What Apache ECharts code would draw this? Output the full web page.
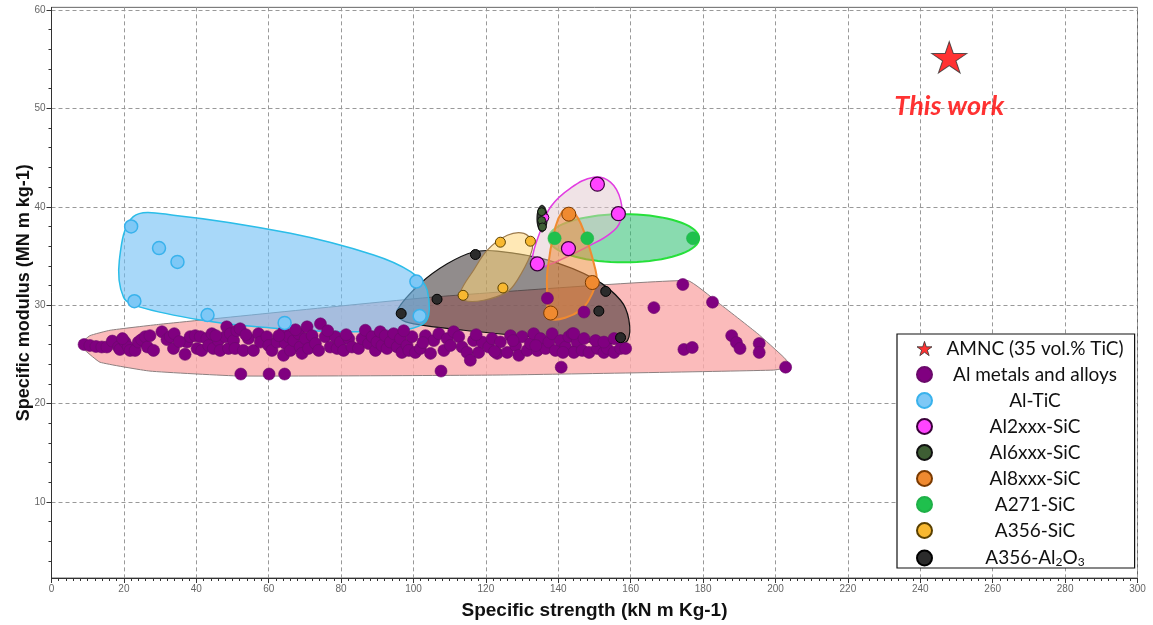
<!DOCTYPE html>
<html>
<head>
<meta charset="utf-8">
<script src="https://cdn.jsdelivr.net/npm/echarts@6/dist/echarts.min.js"></script>
<style>
  html, body { margin: 0; padding: 0; background: #fff; }
  #chart { width: 1153px; height: 625px; }
</style>
</head>
<body>
<div id="chart"></div>
<script>
// ---- data: [specific strength (kN m kg-1), specific modulus (MN m kg-1)] ----
const amncPoints = [[248, 55.2]];

const alloyPoints = [
  [9.0,26.0],[10.6,25.9],[12.3,25.8],[13.9,25.75],[15.3,25.75],[16.8,26.35],[18.5,25.75],[18.9,25.5],
  [20.3,26.25],[21.2,25.75],[21.7,25.4],[23.1,25.4],[24.0,26.25],[24.9,26.5],[25.9,26.8],[26.5,25.75],
  [27.2,26.9],[28.2,25.4],[30.5,27.3],[31.9,26.5],[32.8,26.8],[33.9,27.1],[33.7,25.6],[36.9,25.0],
  [37.4,26.25],[38.3,26.8],[39.7,26.9],[40.2,25.6],[41.1,26.8],[41.5,25.4],[42.9,26.6],[43.4,25.9],
  [44.3,27.1],[44.7,25.6],[46.1,26.4],[46.6,25.4],[48.0,26.8],[48.4,27.8],[48.9,25.6],[49.4,27.1],
  [50.3,26.4],[50.7,25.6],[51.2,27.4],[52.3,23.0],[60.1,23.0],[64.4,23.0],
  [52.1,27.6],[53.0,25.4],[54.4,26.6],[55.8,25.4],[57.2,27.1],[57.7,26.25],[59.5,26.8],[60.0,25.9],
  [60.9,25.4],[62.3,26.25],[64.1,27.3],[64.1,24.9],[64.6,26.1],[65.5,26.8],[66.0,25.4],[66.9,26.4],
  [68.3,27.1],[68.7,25.75],[69.2,25.1],[70.1,26.6],[70.6,27.8],[71.0,25.6],[72.0,26.9],[72.9,26.1],
  [73.8,25.4],[74.3,28.1],[75.6,26.8],[77.0,25.75],[78.4,26.8],[78.9,25.6],[79.8,26.25],[80.7,25.4],
  [82.1,26.6],[83.0,25.75],[84.8,25.6],[85.8,26.6],[86.7,27.45],[87.6,26.1],[88.6,26.8],[89.5,25.4],
  [89.9,26.25],[90.8,27.3],[91.3,25.9],[92.2,26.9],[92.7,25.6],[93.6,26.25],[94.5,27.1],[95.5,25.75],
  [96.4,26.6],[96.8,25.2],[98.2,25.9],[98.7,25.4],[99.6,26.8],[100.5,25.2],[101.9,25.6],[103.3,26.9],
  [104.7,25.1],[105.6,26.4],[107.0,27.1],[108.4,25.4],[109.3,26.6],[111.1,27.3],[112.5,26.8],[113.4,25.75],
  [114.8,25.2],[115.7,24.4],[116.6,26.4],[118.0,25.2],[119.0,26.25],[120.8,25.75],[121.7,26.6],[123.1,25.1],
  [124.0,26.25],[125.9,25.2],[126.8,26.9],[128.2,25.9],[129.1,24.9],[130.0,26.8],[131.4,25.4],[132.3,26.1],
  [133.2,27.1],[134.2,25.4],[135.1,26.6],[136.5,25.6],[137.4,26.25],[138.3,27.1],[139.2,25.4],[140.6,26.4],
  [142.0,25.75],[142.9,26.8],[143.9,27.1],[144.8,25.4],[145.2,26.25],[107.6,23.3],[140.8,23.7],
  [144.3,25.2],[146.6,25.4],[148.5,25.2],[150.8,25.6],[152.6,25.2],[153.5,25.6],[155.4,25.2],[157.2,25.6],
  [158.6,25.6],[147.1,29.3],[144.3,27.1],[147.1,26.6],[150.3,26.4],[152.6,26.25],[155.4,26.6],[137.0,30.7],
  [174.4,32.1],[166.4,29.75],[182.6,30.3],[174.7,25.5],[177.0,25.7],[187.9,26.9],[189.2,26.2],[190.2,25.6],
  [195.5,26.1],[195.5,25.2],[202.8,23.7],
  [19.6,26.6],[35.3,26.3],[45.4,26.9],[53.7,27.0],[62.8,26.9],[67.4,27.5],[76.3,27.4],[81.4,27.0],
  [97.3,27.4],[102.6,26.2],[110.2,25.9],[117.3,27.0],[122.4,25.3],[127.5,26.4],[133.8,25.9],[141.3,25.2]
];

const alTicPoints = [[22.0,38.0],[29.7,35.8],[34.8,34.4],[22.9,30.4],[43.1,29.0],[64.4,28.2],[100.8,32.4],[101.7,28.9]];
const al2xxxPoints = [[150.8,42.3],[156.6,39.3],[142.8,35.75],[134.2,34.2]];
const al2xxxSmallPoints = [[136.3,38.9]];
const al6xxxPoints = [[135.4,39.5],[135.4,38.6],[135.6,37.95]];
const al8xxxPoints = [[142.9,39.25],[149.4,32.3],[137.9,29.2]];
const a271Points = [[139.0,36.8],[148.0,36.8],[177.2,36.8]];
const a356SicPoints = [[124.0,36.4],[132.3,36.5],[124.7,31.75],[113.7,31.0]];
const a356AlOPoints = [[117.1,35.15],[106.5,30.6],[96.6,29.15],[153.1,31.4],[151.2,29.4],[157.2,26.7]];

// ---- envelope outlines, in data units ----
const alloyEnvelope = [
  [7.9,26.0],[10.6,26.9],[16.2,27.45],[30.0,28.06],[104.7,30.8],[175.7,32.5],[184.0,30.3],[195.1,27.1],
  [202.3,24.7],[204.2,23.8],[199.5,23.4],[124.0,22.9],[52.1,22.8],[27.2,23.3],[13.4,24.2],[9.3,25.4]
];
const alTicEnvelope = [
  [18.75,34.6],[22.6,39.0],[33.7,39.15],[66.0,37.3],[89.0,35.1],[99.2,33.4],[103.8,31.5],[102.7,28.1],
  [84.4,27.3],[56.7,27.8],[41.1,28.5],[24.5,29.8],[19.9,30.8]
];
const a356AlOEnvelope = [
  [95.5,29.5],[101.9,32.2],[109.3,34.2],[116.6,35.4],[123.1,35.5],[136.9,34.6],[149.8,32.7],[157.2,30.5],
  [159.5,28.5],[159.1,26.4],[155.4,26.1],[132.3,26.8],[113.9,27.45],[100.1,28.1],[96.4,28.6]
];
const a356SicEnvelope = [
  [120.4,35.6],[125.9,37.1],[130.5,37.3],[132.8,36.4],[132.3,35.1],[128.6,32.5],[125.9,31.35],[119.4,30.5],
  [113.9,30.5],[113.0,31.35],[116.6,33.55]
];
const al2xxxEnvelope = [
  [132.8,34.74],[135.1,37.6],[137.9,40.0],[143.4,41.9],[149.8,43.0],[154.4,42.5],[157.2,40.7],[157.2,38.6],
  [154.4,37.3],[148.9,36.1],[140.6,34.6],[136.0,33.9],[133.7,33.7]
];
const al8xxxEnvelope = [
  [142.9,39.83],[146.2,38.3],[150.3,33.55],[150.3,32.0],[146.2,29.5],[137.9,28.6],[137.0,30.8],[137.0,33.55],
  [139.2,37.95],[141.1,39.5]
];
// ellipses: [centre x, centre y, half width, half height]
const a271Ellipse = [158.1, 36.8, 20.8, 2.45];
const al6xxxEllipse = [135.5, 38.8, 1.4, 1.35];

// ---- axis ticks ----
const yTickValues = [10, 20, 30, 40, 50, 60];
const yMinorValues = [4, 6, 8, 12, 14, 16, 18, 22, 24, 26, 28, 32, 34, 36, 38, 42, 44, 46, 48, 52, 54, 56, 58];

const legendNames = ['AMNC (35 vol.% TiC)', 'Al metals and alloys', 'Al-TiC', 'Al2xxx-SiC', 'Al6xxx-SiC',
                     'Al8xxx-SiC', 'A271-SiC', 'A356-SiC', 'A356-Al2O3'];

const STAR = 'path://M50,0L61.23,34.55L97.55,34.55L68.17,55.9L79.39,90.45L50,69.1L20.61,90.45L31.83,55.9L2.45,34.55L38.77,34.55Z';

function polygonEnvelope(id, pts, fill, stroke, lw, smooth) {
  return {
    type: 'custom', id: id, name: id, silent: true, clip: true,
    data: [[pts[0][0], pts[0][1]]],
    renderItem: function (params, api) {
      return {
        type: 'polygon',
        shape: { points: pts.map(function (p) { return api.coord(p); }), smooth: smooth },
        style: { fill: fill, stroke: stroke, lineWidth: lw }
      };
    }
  };
}

function ellipseEnvelope(id, e, fill, stroke, lw) {
  return {
    type: 'custom', id: id, name: id, silent: true, clip: true,
    data: [[e[0], e[1]]],
    renderItem: function (params, api) {
      const c = api.coord([e[0], e[1]]);
      const rx = api.coord([e[0] + e[2], e[1]])[0] - c[0];
      const ry = c[1] - api.coord([e[0], e[1] + e[3]])[1];
      const pts = [];
      for (let i = 0; i < 72; i++) {
        const a = i / 72 * Math.PI * 2;
        pts.push([c[0] + rx * Math.cos(a), c[1] + ry * Math.sin(a)]);
      }
      return { type: 'polygon', shape: { points: pts }, style: { fill: fill, stroke: stroke, lineWidth: lw } };
    }
  };
}

function dots(name, pts, size, fill, border, bw) {
  return {
    type: 'scatter', name: name, data: pts, symbol: 'circle', symbolSize: size,
    itemStyle: { color: fill, borderColor: border, borderWidth: bw, opacity: 1 },
    emphasis: { disabled: true }
  };
}

const chart = echarts.init(document.getElementById('chart'), null, { renderer: 'canvas' });

const legendRich = {
  t: { fontFamily: 'Lato', fontSize: 19, color: '#111', align: 'center', lineHeight: 20 },
  s: { fontFamily: 'Lato', fontSize: 12, color: '#111', align: 'center', verticalAlign: 'bottom', lineHeight: 14, padding: [9, 0, 0, 0] }
};

chart.setOption({
  animation: false,
  backgroundColor: '#fff',
  grid: { left: 51.5, right: 15.5, top: 7.35, bottom: 46.7, show: true, borderColor: '#666', borderWidth: 1, backgroundColor: '#fff' },
  xAxis: {
    type: 'value', min: 0, max: 300, interval: 20,
    name: 'Specific strength (kN m Kg-1)', nameLocation: 'middle', nameGap: 23, nameMoveOverlap: false,
    nameTextStyle: { fontFamily: 'Liberation Sans', fontWeight: 'bold', fontSize: 19, color: '#111' },
    axisLine: { lineStyle: { color: '#333', width: 1 } },
    axisTick: { show: true, length: 5, lineStyle: { color: '#333' } },
    minorTick: { show: true, splitNumber: 10, length: 3, lineStyle: { color: '#333' } },
    axisLabel: { fontFamily: 'Liberation Sans', fontSize: 10, color: '#666', margin: 6 },
    splitLine: { show: true, lineStyle: { color: '#999', type: [4, 3], width: 1 } }
  },
  yAxis: [{
    type: 'value', min: 2.27, max: 60.27,
    name: 'Specific modulus (MN m kg-1)', nameLocation: 'middle', nameGap: 18, nameRotate: 90, nameMoveOverlap: false,
    nameTextStyle: { fontFamily: 'Liberation Sans', fontWeight: 'bold', fontSize: 18, color: '#111' },
    axisLine: { show: true, lineStyle: { color: '#333', width: 1 } },
    axisTick: { show: true, length: 5, customValues: yTickValues, lineStyle: { color: '#333' } },
    axisLabel: { customValues: yTickValues, fontFamily: 'Liberation Sans', fontSize: 10, color: '#666', margin: 6 },
    splitLine: { show: true, lineStyle: { color: '#999', type: [4, 3], width: 1 } }
  }, {
    type: 'value', min: 2.27, max: 60.27, position: 'left',
    axisLine: { show: false },
    axisTick: { show: true, length: 3, customValues: yMinorValues, lineStyle: { color: '#333' } },
    axisLabel: { show: false },
    splitLine: { show: false }
  }],
  legend: {
    orient: 'vertical', left: 897, top: 334,
    padding: [5, 11, 0, 19], itemGap: 7, itemWidth: 15, itemHeight: 15,
    backgroundColor: '#fff', borderColor: '#111', borderWidth: 1.2, borderRadius: 0,
    selectedMode: false,
    data: legendNames.map(function (n) {
      return n === legendNames[0] ? { name: n, icon: STAR, itemStyle: { color: '#ff0000', borderColor: '#333', borderWidth: 1 } } : { name: n };
    }),
    textStyle: { width: 196, rich: legendRich },
    formatter: function (n) {
      if (n === 'A356-Al2O3') return '{t|A356-Al}{s|2}{t|O}{s|3}';
      return '{t|' + n + '}';
    }
  },
  series: [
    polygonEnvelope('alloy-envelope', alloyEnvelope, 'rgba(250,170,170,0.8)', '#8d8080', 1, 0.12),
    dots('Al metals and alloys', alloyPoints, 12, '#800080', '#6a0a6a', 0.6),
    polygonEnvelope('a356alo-envelope', a356AlOEnvelope, 'rgba(45,35,35,0.52)', '#111', 1.2, 0.35),
    dots('A356-Al2O3', a356AlOPoints, 10, '#2b2b2b', '#000', 1),
    polygonEnvelope('altic-envelope', alTicEnvelope, 'rgba(110,190,245,0.6)', '#2bbde8', 1.5, 0.35),
    dots('Al-TiC', alTicPoints, 13, '#7ec8f6', '#39b2ec', 1.5),
    polygonEnvelope('a356sic-envelope', a356SicEnvelope, 'rgba(255,214,120,0.55)', '#9c7a4c', 1.2, 0.35),
    ellipseEnvelope('a271-envelope', a271Ellipse, 'rgba(40,190,110,0.55)', '#26e03a', 2),
    polygonEnvelope('al2xxx-envelope', al2xxxEnvelope, 'rgba(225,200,205,0.5)', '#e23ce2', 1.5, 0.4),
    polygonEnvelope('al8xxx-envelope', al8xxxEnvelope, 'rgba(238,140,60,0.55)', '#f08a30', 2, 0.35),
    ellipseEnvelope('al6xxx-envelope', al6xxxEllipse, 'rgba(35,45,35,0.9)', '#000', 1),
    dots('A356-SiC', a356SicPoints, 10, '#f8b830', '#5a4000', 1),
    dots('A271-SiC', a271Points, 13, '#1fc04d', '#1fb048', 0.5),
    dots('Al2xxx-SiC', al2xxxPoints, 14, '#ff44ff', '#3a003a', 1.2),
    dots('Al2xxx-SiC', al2xxxSmallPoints, 8, '#ff44ff', '#3a003a', 1),
    dots('Al8xxx-SiC', al8xxxPoints, 14, '#f08a30', '#7a3a00', 1),
    dots('Al6xxx-SiC', al6xxxPoints, 8, '#3e5e34', '#111', 1),
    {
      type: 'scatter', name: 'AMNC (35 vol.% TiC)', data: amncPoints,
      symbol: STAR, symbolSize: [35, 33], symbolKeepAspect: true,
      itemStyle: { color: '#ff0000', borderColor: '#333', borderWidth: 1 },
      label: {
        show: true, position: 'bottom', distance: 19, formatter: 'This work',
        fontFamily: 'Lato', fontSize: 27, fontStyle: 'italic', fontWeight: 'bold', color: '#ff0000'
      },
      emphasis: { disabled: true }
    }
  ]
});
</script>
</body>
</html>
